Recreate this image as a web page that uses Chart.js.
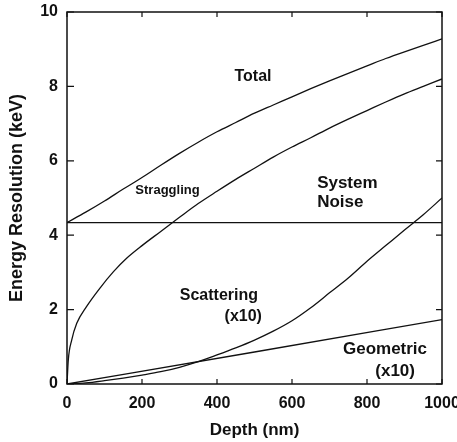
<!DOCTYPE html>
<html>
<head>
<meta charset="utf-8">
<script src="https://cdn.jsdelivr.net/npm/chart.js@4.4.0/dist/chart.umd.min.js"></script>
<style>
  html, body { margin: 0; padding: 0; background: #fff; }
  #wrap { width: 457px; height: 442px; }
</style>
</head>
<body>
<div id="wrap"><canvas id="myChart"></canvas></div>
<script>
// depth axis (nm) and energy resolution (keV) of each contribution
var totalDepth = [0, 50, 100, 150, 200, 250, 300, 350, 400, 450, 500, 550, 600, 650, 700, 750, 800, 850, 900, 950, 1000];
var totalRes = [4.34, 4.62, 4.92, 5.24, 5.55, 5.88, 6.2, 6.5, 6.78, 7.03, 7.28, 7.5, 7.72, 7.94, 8.15, 8.35, 8.55, 8.75, 8.93, 9.1, 9.28];

var stragDepth = [0, 3.5, 12.5, 26, 52, 88, 124, 159, 200, 250, 300, 350, 400, 450, 500, 550, 600, 650, 700, 750, 800, 850, 900, 950, 1000];
var stragRes = [0, 0.65, 1.18, 1.63, 2.08, 2.58, 3.02, 3.38, 3.72, 4.1, 4.48, 4.85, 5.18, 5.5, 5.8, 6.1, 6.37, 6.62, 6.88, 7.12, 7.35, 7.58, 7.8, 8.0, 8.2];

var noiseDepth = [0, 1000];
var noiseRes = [4.34, 4.34];

var scatDepth = [0, 50, 100, 150, 200, 250, 300, 350, 400, 450, 500, 550, 600, 650, 700, 750, 800, 850, 900, 950, 1000];
var scatRes = [0, 0.03, 0.09, 0.16, 0.24, 0.33, 0.45, 0.6, 0.78, 0.97, 1.18, 1.42, 1.7, 2.05, 2.45, 2.85, 3.3, 3.72, 4.14, 4.55, 5.0];

var geoDepth = [0, 500, 1000];
var geoRes = [0, 0.86, 1.73];

var xTicks = [0, 200, 400, 600, 800, 1000];
var yTicks = [0, 2, 4, 6, 8, 10];

// curve labels: text lines, anchor (depth, keV), font size, alignment
var curveLabels = [
  { lines: ["Total"], x: 496, y: 8.26, size: 16, align: "center" },
  { lines: ["Straggling"], x: 268, y: 5.2, size: 13, align: "center" },
  { lines: ["System", "Noise"], x: 667, y: 5.4, size: 17, align: "left" },
  { lines: ["Scattering"], x: 405, y: 2.37, size: 16, align: "center" },
  { lines: ["(x10)"], x: 470, y: 1.82, size: 16, align: "center" },
  { lines: ["Geometric"], x: 848, y: 0.92, size: 17, align: "center" },
  { lines: ["(x10)"], x: 875, y: 0.35, size: 17, align: "center" }
];

var FONT = "'Liberation Sans', Arial, Helvetica, sans-serif";

function pts(xs, ys) {
  var out = [];
  for (var i = 0; i < xs.length; i++) out.push({ x: xs[i], y: ys[i] });
  return out;
}

function curve(label, xs, ys) {
  return {
    label: label,
    data: pts(xs, ys),
    borderColor: "#111",
    borderWidth: 1.3,
    pointRadius: 0,
    fill: false,
    cubicInterpolationMode: "monotone"
  };
}

// box around the plot, inward ticks on all four sides, and the curve names
var framePlugin = {
  id: "frame",
  afterDatasetsDraw: function (chart) {
    var ctx = chart.ctx;
    var a = chart.chartArea;
    var xs = chart.scales.x;
    var ys = chart.scales.y;
    ctx.save();
    ctx.strokeStyle = "#111";
    ctx.lineWidth = 1.5;
    ctx.strokeRect(a.left, a.top, a.right - a.left, a.bottom - a.top);
    ctx.lineWidth = 1.2;
    ctx.beginPath();
    xTicks.forEach(function (v) {
      var px = xs.getPixelForValue(v);
      ctx.moveTo(px, a.bottom); ctx.lineTo(px, a.bottom - 5);
      ctx.moveTo(px, a.top); ctx.lineTo(px, a.top + 5);
    });
    yTicks.forEach(function (v) {
      var py = ys.getPixelForValue(v);
      ctx.moveTo(a.left, py); ctx.lineTo(a.left + 7, py);
      ctx.moveTo(a.right, py); ctx.lineTo(a.right - 6, py);
    });
    ctx.stroke();

    ctx.fillStyle = "#111";
    ctx.textBaseline = "middle";
    curveLabels.forEach(function (l) {
      ctx.font = "bold " + l.size + "px " + FONT;
      ctx.textAlign = l.align;
      var px = xs.getPixelForValue(l.x);
      var py = ys.getPixelForValue(l.y);
      l.lines.forEach(function (t, i) {
        ctx.fillText(t, px, py + i * (l.size + 2));
      });
    });
    ctx.restore();
  }
};

var ctx = document.getElementById("myChart").getContext("2d");
var myChart = new Chart(ctx, {
  type: "line",
  data: {
    datasets: [
      curve("Total", totalDepth, totalRes),
      curve("Straggling", stragDepth, stragRes),
      curve("System Noise", noiseDepth, noiseRes),
      curve("Scattering (x10)", scatDepth, scatRes),
      curve("Geometric (x10)", geoDepth, geoRes)
    ]
  },
  options: {
    responsive: true,
    maintainAspectRatio: false,
    animation: false,
    layout: { padding: { top: 12, right: 15, left: 0, bottom: 0 } },
    plugins: {
      legend: { display: false },
      tooltip: { enabled: false }
    },
    scales: {
      x: {
        type: "linear",
        min: 0,
        max: 1000,
        afterBuildTicks: function (scale) {
          scale.ticks = xTicks.map(function (v) { return { value: v }; });
        },
        afterFit: function (scale) {
          scale.height = 58;
          scale.paddingLeft = 0;
          scale.paddingRight = 0;
        },
        grid: { display: false, drawTicks: false },
        border: { display: false },
        ticks: {
          padding: 10,
          color: "#111",
          maxRotation: 0,
          callback: function (v) { return String(v); },
          font: { family: FONT, size: 16, weight: "bold" }
        },
        title: {
          display: true,
          text: "Depth (nm)",
          color: "#111",
          padding: { top: 0, bottom: 1 },
          font: { family: FONT, size: 17, weight: "bold" }
        }
      },
      y: {
        min: 0,
        max: 10,
        afterBuildTicks: function (scale) {
          scale.ticks = yTicks.map(function (v) { return { value: v }; });
        },
        afterFit: function (scale) {
          scale.width = 67;
          scale.paddingTop = 0;
          scale.paddingBottom = 0;
        },
        grid: { display: false, drawTicks: false },
        border: { display: false },
        ticks: {
          padding: 9,
          color: "#111",
          callback: function (v) { return String(v); },
          font: { family: FONT, size: 16, weight: "bold" }
        },
        title: {
          display: true,
          text: "Energy Resolution (keV)",
          color: "#111",
          padding: { top: 6, bottom: 0 },
          font: { family: FONT, size: 18, weight: "bold" }
        }
      }
    }
  },
  plugins: [framePlugin]
});
</script>
</body>
</html>
